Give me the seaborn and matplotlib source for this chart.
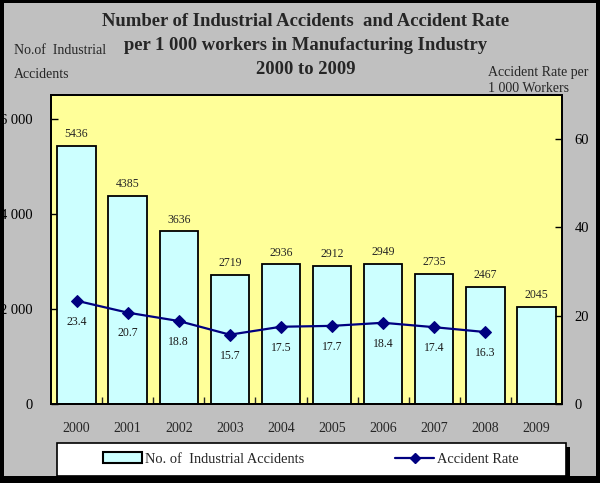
import matplotlib
matplotlib.use("Agg")
import matplotlib.pyplot as plt
import seaborn as sns
import pandas as pd
from matplotlib.patches import Patch, Rectangle
from matplotlib.lines import Line2D
from matplotlib.ticker import FixedLocator

years = ["2000", "2001", "2002", "2003", "2004", "2005", "2006", "2007", "2008", "2009"]
accidents = [5436, 4385, 3636, 2719, 2936, 2912, 2949, 2735, 2467, 2045]
rate_years = ["2000", "2001", "2002", "2003", "2004", "2005", "2006", "2007", "2008"]
rates = [23.4, 20.7, 18.8, 15.7, 17.5, 17.7, 18.4, 17.4, 16.3]
left_ticks = [0, 2000, 4000, 6000]
left_tick_labels = ["0", "2 000", "4 000", "6 000"]
right_ticks = [0, 20, 40, 60]

sns.set_theme(style="white")
plt.rcParams["font.family"] = ["Liberation Serif", "DejaVu Serif"]

BAR = "#ccffff"
LINE = "#000080"
BG = "#c0c0c0"
PLOT = "#ffff99"
W, H = 600, 483

fig = plt.figure(figsize=(6.0, 4.83), dpi=100, facecolor=BG)
ax = fig.add_axes([51/W, 1-404/H, 511/W, 309/H])
ax.set_facecolor(PLOT)

df = pd.DataFrame({"year": years, "acc": accidents})
sns.barplot(data=df, x="year", y="acc", ax=ax, color=BAR, edgecolor="black",
            linewidth=1.3, width=0.75, saturation=1)
ax.set_xlim(-0.5, 9.5)
ax.set_ylim(0, 6500)
ax.set_yticks(left_ticks)
ax.set_yticklabels(left_tick_labels)
ax.set_xlabel("")
ax.set_ylabel("")
ax.bar_label(ax.containers[0], labels=[str(v) for v in accidents], padding=4, fontsize=8.5)
ax.tick_params(axis="y", direction="in", length=5, width=1, colors="black", labelsize=10.5, pad=13)
ax.tick_params(axis="x", which="major", length=0, labelsize=10, pad=13)
ax.xaxis.set_minor_locator(FixedLocator([i + 0.5 for i in range(len(years) - 1)]))
ax.tick_params(axis="x", which="minor", direction="in", length=5, width=1, bottom=True)
for sp in ax.spines.values():
    sp.set_color("black")
    sp.set_linewidth(1.3)

ax2 = ax.twinx()
rdf = pd.DataFrame({"x": list(range(len(rate_years))), "rate": rates})
sns.lineplot(data=rdf, x="x", y="rate", ax=ax2, color=LINE, marker="D", markersize=6,
             markeredgecolor=LINE, linewidth=1.6)
ax2.set_ylim(0, 70)
ax2.set_xlim(-0.5, 9.5)
ax2.set_yticks(right_ticks)
ax2.set_ylabel("")
ax2.set_xlabel("")
ax2.tick_params(axis="y", direction="in", length=5, width=1, colors="black", labelsize=10.5, pad=9)
for x, r in zip(range(len(rates)), rates):
    ax2.annotate(f"{r}", (x, r), xytext=(0, -15), textcoords="offset points",
                 ha="center", va="center", fontsize=8.5, color="#1a1a1a")
for sp in ax2.spines.values():
    sp.set_color("black")
    sp.set_linewidth(1.3)

for y, s in [(22, "Number of Industrial Accidents  and Accident Rate"),
             (46, "per 1 000 workers in Manufacturing Industry"),
             (70, "2000 to 2009")]:
    fig.text(306/W, 1-y/H, s, ha="center", va="center", fontsize=13.4, fontweight="bold")
fig.text(14/W, 1-51/H, "No.of  Industrial", ha="left", va="center", fontsize=10)
fig.text(14/W, 1-75/H, "Accidents", ha="left", va="center", fontsize=10)
fig.text(488/W, 1-72/H, "Accident Rate per", ha="left", va="center", fontsize=10)
fig.text(488/W, 1-89/H, "1 000 Workers", ha="left", va="center", fontsize=10)

# legend frame with black shadow
fig.patches.append(Rectangle((61/W, 0), 509/W, 1-447/H, transform=fig.transFigure,
                             facecolor="black", edgecolor="none", zorder=2))
fig.patches.append(Rectangle((57/W, 1-476/H), 509/W, 33/H, transform=fig.transFigure,
                             facecolor="white", edgecolor="black", linewidth=1.2, zorder=3))

handles = [Patch(facecolor=BAR, edgecolor="black", linewidth=1.5),
           Line2D([], [], color=LINE, marker="D", markersize=5, linewidth=1.6)]
labels = ["No. of  Industrial Accidents", "Accident Rate"]
leg = fig.legend(handles, labels, loc="center left", ncol=2,
                 bbox_to_anchor=(103/W, 1-459/H), frameon=False, fontsize=10.4,
                 handlelength=2.7, handletextpad=0.2, columnspacing=6.3,
                 borderaxespad=0, borderpad=0)
leg.set_zorder(5)

# outer black border
for (x0, y0, w, h) in [(0, 0, 4, H), (W-4, 0, 4, H), (0, 0, W, 3), (0, H-7, W, 7)]:
    fig.patches.append(Rectangle((x0/W, 1-(y0+h)/H), w/W, h/H, transform=fig.transFigure,
                                 facecolor="black", edgecolor="none", zorder=1))

fig.savefig("out.png", dpi=100, facecolor=BG)
